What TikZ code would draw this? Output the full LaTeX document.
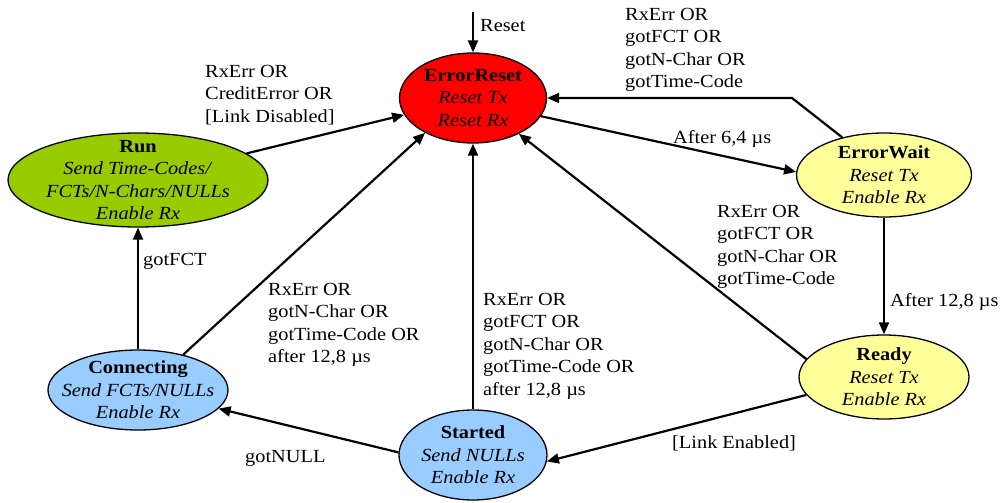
\documentclass[tikz,border=0pt]{standalone}
\usepackage{fontspec}
\setmainfont{Liberation Serif}[FakeStretch=1.1]
\usetikzlibrary{shapes.geometric,arrows.meta}

\definecolor{errred}{HTML}{FF0000}
\definecolor{rungreen}{HTML}{99CC00}
\definecolor{waityellow}{HTML}{FFFF99}
\definecolor{linkblue}{HTML}{99CCFF}

\tikzset{
  state/.style={ellipse, draw=black, line width=1.3pt, inner sep=0pt},
  stxt/.style={align=center, inner sep=0pt, font=\fontsize{18.5}{22.5}\selectfont},
  lbl/.style={align=left, anchor=north west, inner sep=0pt, font=\fontsize{18.5}{22.5}\selectfont},
  trans/.style={line width=2.2pt, -{Triangle[length=12pt,width=10pt]}},
}

\begin{document}
\begin{tikzpicture}[x=1pt,y=-1pt]
\useasboundingbox (0,0) rectangle (1001,503);

% states
\node[state, fill=errred,     minimum width=147pt, minimum height=90pt] (er)   at (473,98)  {};
\node[state, fill=rungreen,   minimum width=260pt, minimum height=94pt] (run)  at (138,180) {};
\node[state, fill=waityellow, minimum width=175pt, minimum height=84pt] (ew)   at (884,175) {};
\node[state, fill=waityellow, minimum width=170pt, minimum height=84pt] (rdy)  at (884,377) {};
\node[state, fill=linkblue,   minimum width=180pt, minimum height=80pt] (conn) at (138,390) {};
\node[state, fill=linkblue,   minimum width=148pt, minimum height=90pt] (st)   at (473,455) {};

% state texts
\node[stxt] at (er)   {\textbf{ErrorReset}\\\textit{Reset Tx}\\\textit{Reset Rx}};
\node[stxt] at (run)  {\textbf{Run}\\\textit{Send Time-Codes/}\\\textit{FCTs/N-Chars/NULLs}\\\textit{Enable Rx}};
\node[stxt] at (ew)   {\textbf{ErrorWait}\\\textit{Reset Tx}\\\textit{Enable Rx}};
\node[stxt] at (rdy)  {\textbf{Ready}\\\textit{Reset Tx}\\\textit{Enable Rx}};
\node[stxt] at (conn) {\textbf{Connecting}\\\textit{Send FCTs/NULLs}\\\textit{Enable Rx}};
\node[stxt] at (st)   {\textbf{Started}\\\textit{Send NULLs}\\\textit{Enable Rx}};

% entry point and bend
\coordinate (rst) at (473,12);
\coordinate (bend) at (792,98);

% transitions
\draw[trans] (rst) -- (er.north);
\draw[trans] (run) -- (er);
\draw[trans] (er.-15) -- (ew.178);
\draw[trans] (ew.138) -- (bend) -- (er.east);
\draw[trans] (ew) -- (rdy);
\draw[trans] (rdy.167) -- (er.-38);
\draw[trans] (rdy.193) -- (st.-5);
\draw[trans] (st) -- (er);
\draw[trans] (st.178) -- (conn.-13);
\draw[trans] (conn) -- (run);
\draw[trans] (conn.38) -- (er.216);

% transition labels
\node[lbl] (lreset) at (480,19)  {Reset};
\node[lbl] (lrun)   at (205,65)  {RxErr OR\\CreditError OR\\{[Link Disabled]}};
\node[lbl] (lwait)  at (625,8)   {RxErr OR\\gotFCT OR\\gotN-Char OR\\gotTime-Code};
\node[lbl] (l64)    at (673,130) {After 6,4 µs};
\node[lbl] (l128)   at (890,293) {After 12,8 µs};
\node[lbl] (lrdy)   at (717,205) {RxErr OR\\gotFCT OR\\gotN-Char OR\\gotTime-Code};
\node[lbl] (lenab)  at (672,435) {[Link Enabled]};
\node[lbl] (lst)    at (483,293) {RxErr OR\\gotFCT OR\\gotN-Char OR\\gotTime-Code OR\\after 12,8 µs};
\node[lbl] (lnull)  at (245,450) {gotNULL};
\node[lbl] (lfct)   at (143,253) {gotFCT};
\node[lbl] (lconn)  at (268,283) {RxErr OR\\gotN-Char OR\\gotTime-Code OR\\after 12,8 µs};
\end{tikzpicture}
\end{document}
